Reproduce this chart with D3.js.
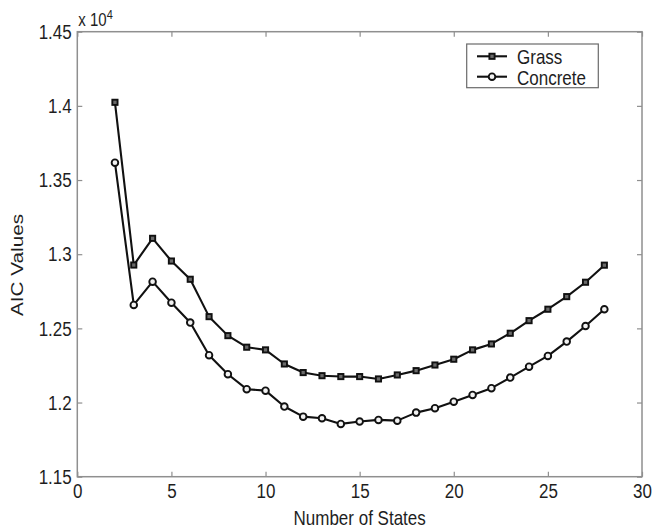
<!DOCTYPE html>
<html>
<head>
<meta charset="utf-8">
<script src="https://cdn.jsdelivr.net/npm/d3@7"></script>
<style>
  html, body { margin: 0; padding: 0; background: #fff; }
  svg { display: block; font-family: "Liberation Sans", Arial, Helvetica, sans-serif; }
</style>
</head>
<body>
<svg id="chart" width="654" height="531"></svg>
<script>
// Number of hidden states evaluated
const states = [2, 3, 4, 5, 6, 7, 8, 9, 10, 11, 12, 13, 14, 15, 16, 17, 18, 19, 20, 21, 22, 23, 24, 25, 26, 27, 28];

// AIC values per surface type
const grassAIC = [14024, 12927, 13107, 12954, 12831, 12579, 12451, 12373, 12355, 12260, 12202, 12181, 12175, 12175,
  12159, 12186, 12215, 12253, 12292, 12355, 12395, 12467, 12552, 12629, 12714, 12811, 12926];
const concreteAIC = [13617, 12658, 12815, 12673, 12539, 12319, 12191, 12090, 12080, 11973, 11905, 11894, 11856, 11872,
  11883, 11878, 11932, 11962, 12006, 12051, 12097, 12168, 12242, 12314, 12411, 12516, 12629];

const xTicks = [0, 5, 10, 15, 20, 25, 30];
const yTicks = [11500, 12000, 12500, 13000, 13500, 14000, 14500];
const yTickLabels = ["1.15", "1.2", "1.25", "1.3", "1.35", "1.4", "1.45"];

const seriesNames = ["Grass", "Concrete"];

const svg = d3.select("#chart");
const plotL = 77.3, plotR = 642, plotT = 31.7, plotB = 476.7;

const x = d3.scaleLinear().domain([0, 30]).range([plotL, plotR]);
const y = d3.scaleLinear().domain([11500, 14500]).range([plotB, plotT]);

const axisColor = "#8f8f8f";
const textColor = "#1e1e1e";
const tickLen = 5;
const fontSize = 17;
const stretch = 1.22;   // text is drawn slightly taller than wide
const labelFont = "Liberation Sans, Arial, sans-serif";

// Draw text stretched vertically around its anchor point
function tallText(parent, tx, ty, str, opts = {}) {
  const t = parent.append("text")
    .attr("transform", `translate(${tx},${ty}) scale(1,${stretch})${opts.rotate ? " rotate(" + opts.rotate + ")" : ""}`)
    .attr("font-size", opts.size || fontSize)
    .attr("fill", textColor)
    .attr("text-anchor", opts.anchor || "start")
    .text(str);
  return t;
}

// Axes box
const g = svg.append("g");
g.append("rect")
  .attr("x", plotL).attr("y", plotT)
  .attr("width", plotR - plotL).attr("height", plotB - plotT)
  .attr("fill", "none").attr("stroke", axisColor).attr("stroke-width", 1.5);

// Bottom axis with inward ticks
const xAxis = d3.axisBottom(x).tickValues(xTicks).tickSize(-tickLen).tickPadding(5.4).tickFormat(d3.format("d"));
g.append("g").attr("transform", `translate(0,${plotB})`).call(xAxis)
  .call(s => s.select(".domain").remove())
  .call(s => s.selectAll("line").attr("stroke", axisColor).attr("stroke-width", 1.2))
  .call(s => s.selectAll("text").attr("fill", textColor).attr("font-size", fontSize)
    .attr("font-family", labelFont).attr("transform", `scale(1,${stretch})`));

// Top axis ticks only
g.append("g").attr("transform", `translate(0,${plotT})`)
  .call(d3.axisTop(x).tickValues(xTicks).tickSize(-tickLen).tickFormat(""))
  .call(s => s.select(".domain").remove())
  .call(s => s.selectAll("line").attr("stroke", axisColor).attr("stroke-width", 1.2));

// Left axis with inward ticks
const yAxis = d3.axisLeft(y).tickValues(yTicks).tickSize(-tickLen).tickPadding(5.6)
  .tickFormat((d, i) => yTickLabels[i]);
g.append("g").attr("transform", `translate(${plotL},0)`).call(yAxis)
  .call(s => s.select(".domain").remove())
  .call(s => s.selectAll("line").attr("stroke", axisColor).attr("stroke-width", 1.2))
  .call(s => s.selectAll("text").attr("fill", textColor).attr("font-size", fontSize)
    .attr("font-family", labelFont).attr("transform", `scale(1,${stretch})`));

// Right axis ticks only
g.append("g").attr("transform", `translate(${plotR},0)`)
  .call(d3.axisRight(y).tickValues(yTicks).tickSize(-tickLen).tickFormat(""))
  .call(s => s.select(".domain").remove())
  .call(s => s.selectAll("line").attr("stroke", axisColor).attr("stroke-width", 1.2));

// Exponent label
const expo = tallText(svg, plotL + 1, 26, "", { size: 15 });
expo.append("tspan").text("x 10");
expo.append("tspan").attr("dy", -6).attr("font-size", 11).text("4");

// Axis titles
tallText(svg, (plotL + plotR) / 2, 525, "Number of States", { anchor: "middle" });
tallText(svg, 22.8, 265, "AIC Values", { anchor: "middle", rotate: -90 });

// Series lines and markers
const line = d3.line().x((d, i) => x(states[i])).y(d => y(d));
const sqSize = 5.2, circR = 3.3;

function drawMarker(sel, shape) {
  if (shape === "square") {
    sel.append("rect").attr("x", -sqSize / 2).attr("y", -sqSize / 2)
      .attr("width", sqSize).attr("height", sqSize)
      .attr("fill", "#6a6a6a").attr("stroke", "#111").attr("stroke-width", 1.9);
  } else {
    sel.append("circle").attr("r", circR)
      .attr("fill", "#f2f2f2").attr("stroke", "#111").attr("stroke-width", 1.9);
  }
}

function drawSeries(values, shape) {
  svg.append("path").datum(values).attr("d", line)
    .attr("fill", "none").attr("stroke", "#111").attr("stroke-width", 2.1)
    .attr("stroke-linejoin", "round");
  svg.append("g").selectAll("g").data(values).join("g")
    .attr("transform", (d, i) => `translate(${x(states[i])},${y(d)})`)
    .each(function () { drawMarker(d3.select(this), shape); });
}
drawSeries(grassAIC, "square");
drawSeries(concreteAIC, "circle");

// Legend
const lg = svg.append("g");
lg.append("rect").attr("x", 466.7).attr("y", 44).attr("width", 131.6).attr("height", 43.7)
  .attr("fill", "#fff").attr("stroke", "#6a6a6a").attr("stroke-width", 1.2);
const rows = [{ name: seriesNames[0], shape: "square", cy: 56.3, base: 64 },
              { name: seriesNames[1], shape: "circle", cy: 76.7, base: 84.8 }];
rows.forEach(r => {
  lg.append("line").attr("x1", 477).attr("x2", 507).attr("y1", r.cy).attr("y2", r.cy)
    .attr("stroke", "#111").attr("stroke-width", 2.1);
  drawMarker(lg.append("g").attr("transform", `translate(492,${r.cy})`), r.shape);
  tallText(lg, 517, r.base, r.name);
});
</script>
</body>
</html>
